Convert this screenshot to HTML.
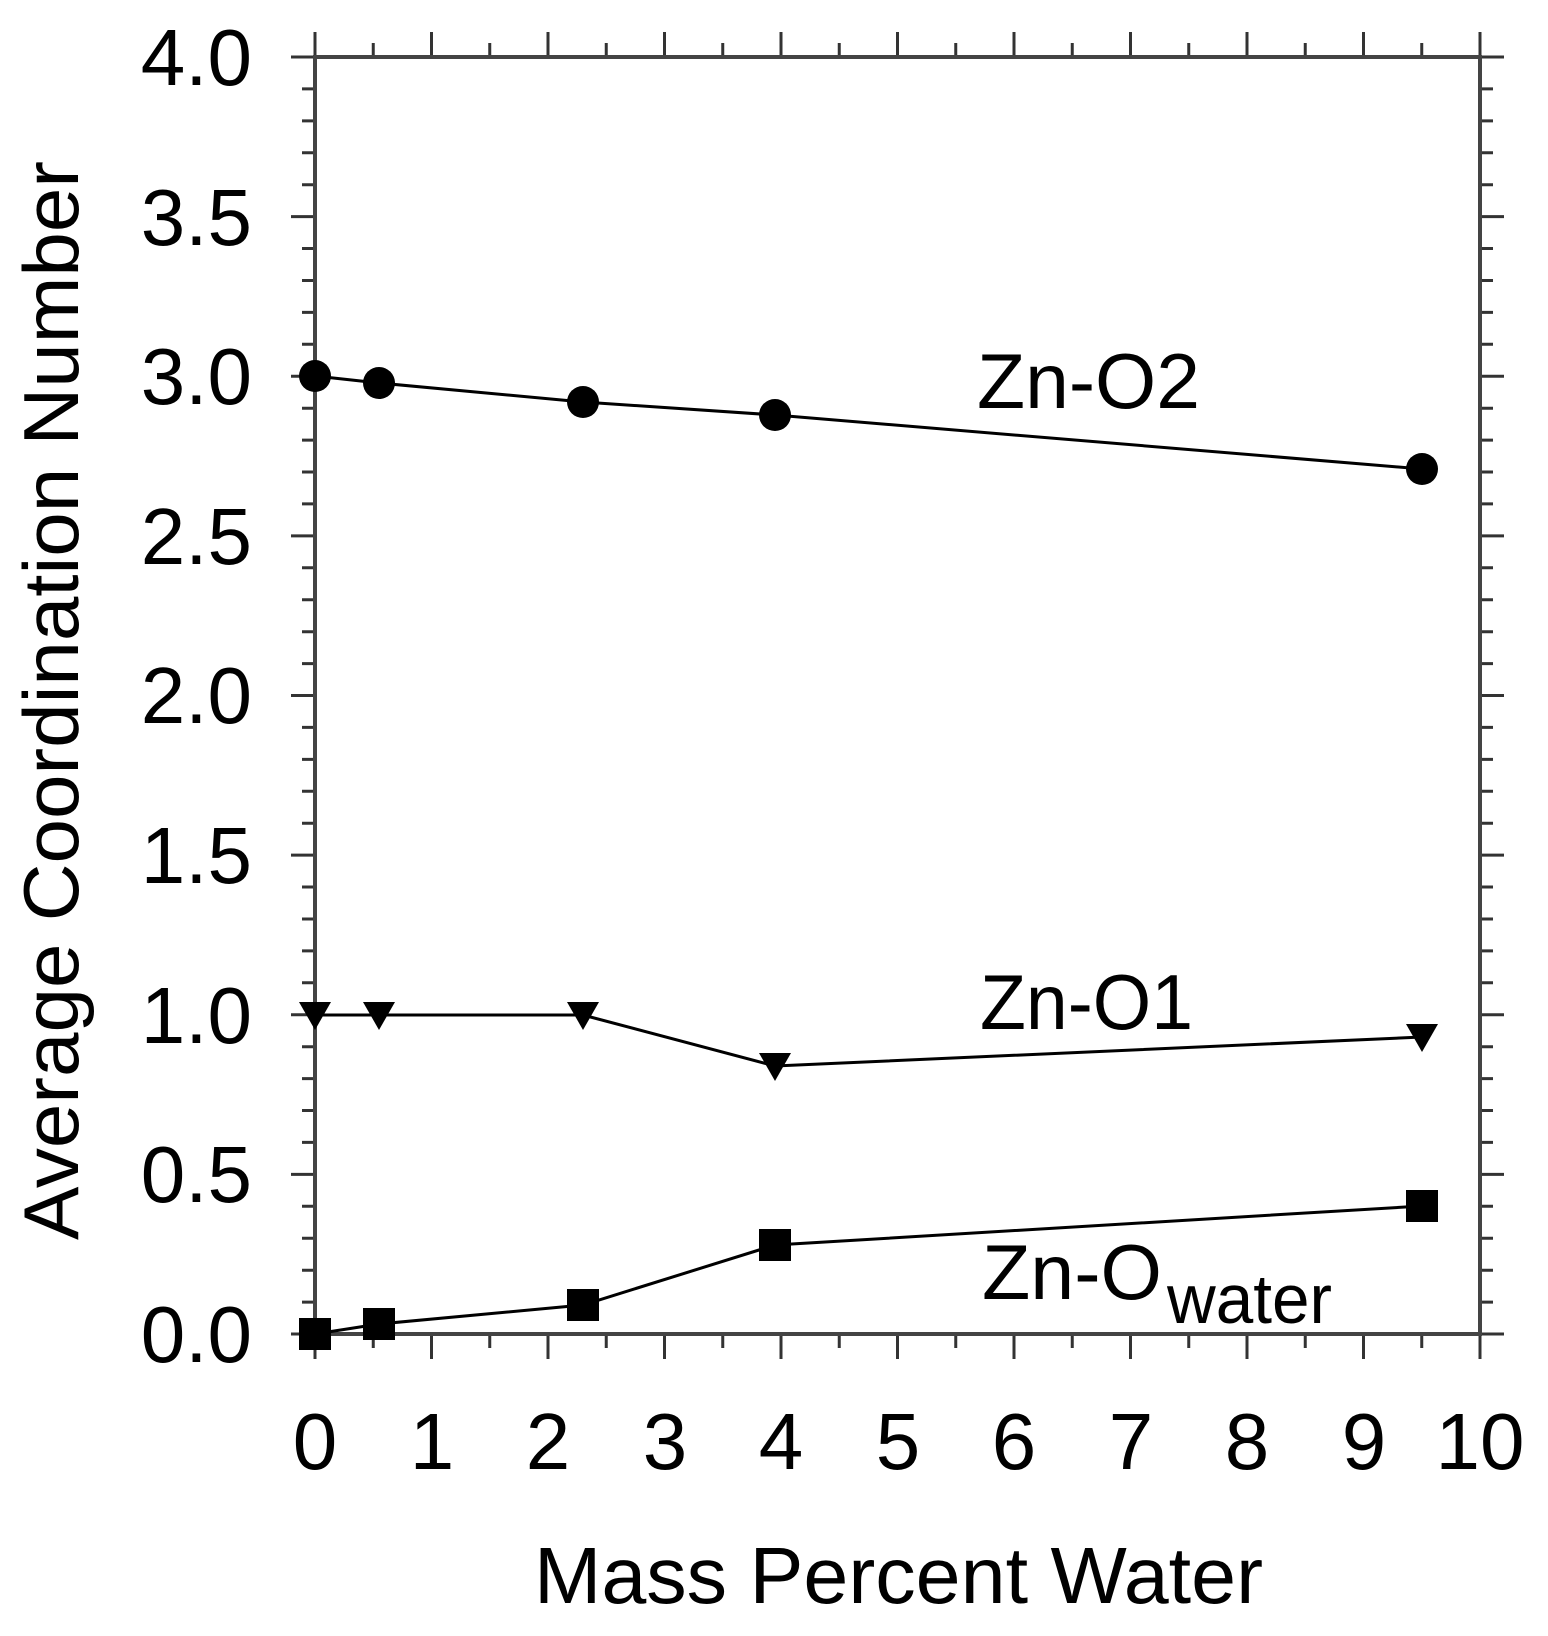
<!DOCTYPE html>
<html><head><meta charset="utf-8"><style>
html,body{margin:0;padding:0;background:#fff;}
svg{display:block;}
text{font-family:"Liberation Sans",Arial,sans-serif;fill:#000;}
</style></head><body>
<svg width="1548" height="1636" viewBox="0 0 1548 1636" xmlns="http://www.w3.org/2000/svg">
<g stroke="#333" stroke-width="3" fill="none">
<path d="M315 1334h-24M315 1302.1h-13M315 1270.2h-13M315 1238.2h-13M315 1206.3h-13M315 1174.4h-24M315 1142.4h-13M315 1110.5h-13M315 1078.6h-13M315 1046.7h-13M315 1014.8h-24M315 982.8h-13M315 950.9h-13M315 919h-13M315 887h-13M315 855.1h-24M315 823.2h-13M315 791.3h-13M315 759.4h-13M315 727.4h-13M315 695.5h-24M315 663.6h-13M315 631.7h-13M315 599.7h-13M315 567.8h-13M315 535.9h-24M315 503.9h-13M315 472h-13M315 440.1h-13M315 408.2h-13M315 376.3h-24M315 344.3h-13M315 312.4h-13M315 280.5h-13M315 248.5h-13M315 216.6h-24M315 184.7h-13M315 152.8h-13M315 120.9h-13M315 88.9h-13M315 57h-24"/>
<path d="M1480 1334h24M1480 1302.1h13M1480 1270.2h13M1480 1238.2h13M1480 1206.3h13M1480 1174.4h24M1480 1142.4h13M1480 1110.5h13M1480 1078.6h13M1480 1046.7h13M1480 1014.8h24M1480 982.8h13M1480 950.9h13M1480 919h13M1480 887h13M1480 855.1h24M1480 823.2h13M1480 791.3h13M1480 759.4h13M1480 727.4h13M1480 695.5h24M1480 663.6h13M1480 631.7h13M1480 599.7h13M1480 567.8h13M1480 535.9h24M1480 503.9h13M1480 472h13M1480 440.1h13M1480 408.2h13M1480 376.3h24M1480 344.3h13M1480 312.4h13M1480 280.5h13M1480 248.5h13M1480 216.6h24M1480 184.7h13M1480 152.8h13M1480 120.9h13M1480 88.9h13M1480 57h24"/>
<path d="M315 1334v25M373.25 1334v14M431.5 1334v25M489.75 1334v14M548 1334v25M606.25 1334v14M664.5 1334v25M722.75 1334v14M781 1334v25M839.25 1334v14M897.5 1334v25M955.75 1334v14M1014 1334v25M1072.25 1334v14M1130.5 1334v25M1188.75 1334v14M1247 1334v25M1305.25 1334v14M1363.5 1334v25M1421.75 1334v14M1480 1334v25"/>
<path d="M315 57v-25M373.25 57v-14M431.5 57v-25M489.75 57v-14M548 57v-25M606.25 57v-14M664.5 57v-25M722.75 57v-14M781 57v-25M839.25 57v-14M897.5 57v-25M955.75 57v-14M1014 57v-25M1072.25 57v-14M1130.5 57v-25M1188.75 57v-14M1247 57v-25M1305.25 57v-14M1363.5 57v-25M1421.75 57v-14M1480 57v-25"/>
</g>
<rect x="315" y="57" width="1165" height="1277" fill="none" stroke="#444" stroke-width="4"/>
<g stroke="#000" stroke-width="3" fill="none">
<polyline points="315,376 379,383 583,402 775,415 1422,469"/>
<polyline points="315,1015 379,1015 583,1015 775,1066 1422,1037"/>
<polyline points="315,1334 379,1324 583,1305 775,1245 1422,1206"/>
</g>
<g fill="#000">
<circle cx="315" cy="376" r="16"/><circle cx="379" cy="383" r="16"/><circle cx="583" cy="402" r="16"/><circle cx="775" cy="415" r="16"/><circle cx="1422" cy="469" r="16"/>
<polygon points="299,1002 331,1002 315,1030"/><polygon points="363,1002 395,1002 379,1030"/><polygon points="567,1002 599,1002 583,1030"/><polygon points="759,1053 791,1053 775,1081"/><polygon points="1406,1024 1438,1024 1422,1052"/>
<rect x="299" y="1318" width="32" height="32"/><rect x="363" y="1308" width="32" height="32"/><rect x="567" y="1289" width="32" height="32"/><rect x="759" y="1229" width="32" height="32"/><rect x="1406" y="1190" width="32" height="32"/>
</g>
<g font-size="80" text-anchor="end">
<text x="252" y="85">4.0</text>
<text x="252" y="245">3.5</text>
<text x="252" y="404">3.0</text>
<text x="252" y="564">2.5</text>
<text x="252" y="723">2.0</text>
<text x="252" y="883">1.5</text>
<text x="252" y="1043">1.0</text>
<text x="252" y="1202">0.5</text>
<text x="252" y="1362">0.0</text>
</g>
<g font-size="80" text-anchor="middle">
<text x="315" y="1469">0</text><text x="432" y="1469">1</text><text x="548" y="1469">2</text><text x="665" y="1469">3</text><text x="781" y="1469">4</text><text x="898" y="1469">5</text><text x="1014" y="1469">6</text><text x="1131" y="1469">7</text><text x="1247" y="1469">8</text><text x="1364" y="1469">9</text><text x="1480" y="1469">10</text>
</g>
<text x="534" y="1603" font-size="80" textLength="729" lengthAdjust="spacingAndGlyphs">Mass Percent Water</text>
<text transform="translate(78,1240) rotate(-90)" font-size="78" textLength="1079" lengthAdjust="spacingAndGlyphs">Average Coordination Number</text>
<text x="977" y="408" font-size="78" textLength="223" lengthAdjust="spacingAndGlyphs">Zn-O2</text>
<text x="980" y="1029" font-size="78" textLength="213" lengthAdjust="spacingAndGlyphs">Zn-O1</text>
<text x="982" y="1299" font-size="78" textLength="180" lengthAdjust="spacingAndGlyphs">Zn-O</text>
<text x="1167" y="1323" font-size="70" textLength="165" lengthAdjust="spacingAndGlyphs">water</text>
</svg>
</body></html>
